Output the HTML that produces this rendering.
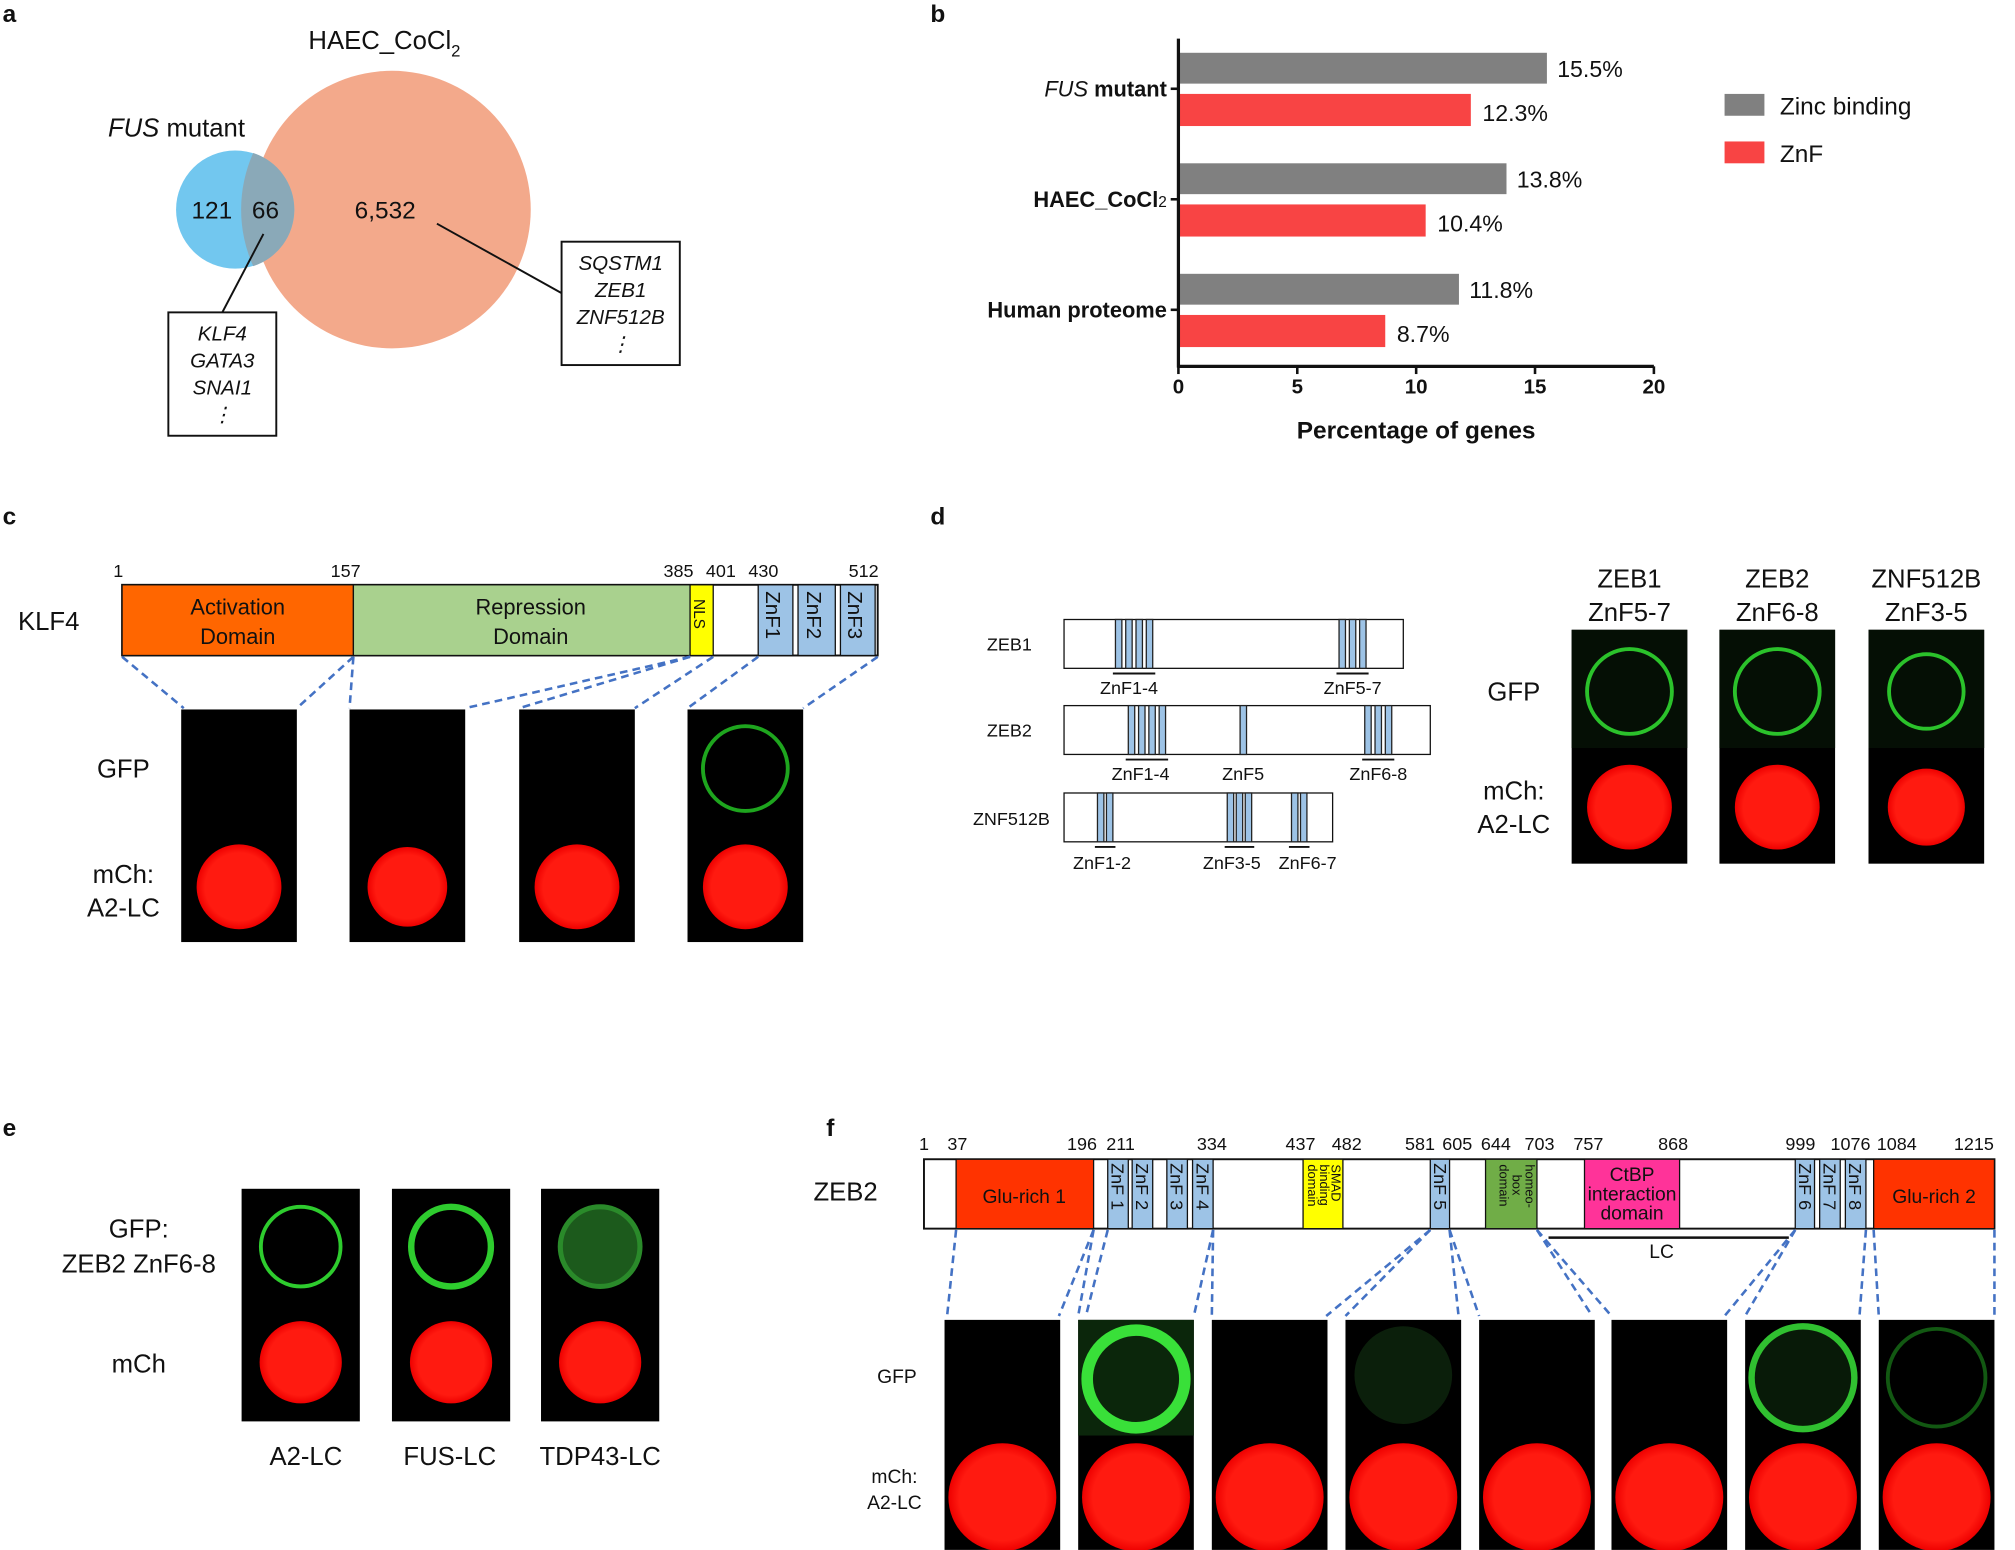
<!DOCTYPE html>
<html><head><meta charset="utf-8"><style>
html,body{margin:0;padding:0;background:#fff}
svg{display:block}
text{font-family:"Liberation Sans",Arial,sans-serif;fill:#111}
</style></head><body>
<svg id="fig" width="2015" height="1550" viewBox="0 0 1568 1206" xmlns="http://www.w3.org/2000/svg">
<defs>
<radialGradient id="redg" cx="50%" cy="50%" r="50%"><stop offset="80%" stop-color="#ff1a10"/><stop offset="100%" stop-color="#e00"/></radialGradient>
</defs>
<!-- panel labels -->
<g font-weight="bold" font-size="19">
<text x="2" y="17">a</text><text x="724" y="17">b</text><text x="2" y="408">c</text><text x="724" y="408">d</text><text x="2" y="884">e</text><text x="643" y="884">f</text>
</g>

<!-- panel a venn -->
<g>
<circle cx="305" cy="163" r="108" fill="#f3a98b"/>
<circle cx="183" cy="163" r="46" fill="#72c7ef"/>
<path d="M229 163 A46 46 0 0 1 197 207 A108 108 0 0 1 197 119 A46 46 0 0 1 229 163Z" fill="#8aa9b8"/>
<text x="240" y="38" font-size="20">HAEC_CoCl<tspan font-size="13" dy="6">2</tspan></text>
<text x="84" y="106" font-size="20"><tspan font-style="italic">FUS</tspan> mutant</text>
<text x="149" y="170" font-size="19">121</text><text x="196" y="170" font-size="19">66</text><text x="276" y="170" font-size="19">6,532</text>
<line x1="205" y1="182" x2="173" y2="243" stroke="#111" stroke-width="1.5"/>
<line x1="340" y1="174" x2="437" y2="228" stroke="#111" stroke-width="1.5"/>
<rect x="131" y="243" width="84" height="96" fill="#fff" stroke="#111" stroke-width="1.5"/>
<g font-style="italic" font-size="16" text-anchor="middle"><text x="173" y="265">KLF4</text><text x="173" y="286">GATA3</text><text x="173" y="307">SNAI1</text><text x="173" y="328">⋮</text></g>
<rect x="437" y="188" width="92" height="96" fill="#fff" stroke="#111" stroke-width="1.5"/>
<g font-style="italic" font-size="16" text-anchor="middle"><text x="483" y="210">SQSTM1</text><text x="483" y="231">ZEB1</text><text x="483" y="252">ZNF512B</text><text x="483" y="273">⋮</text></g>
</g>

<!-- panel b chart -->
<g id="chartb"></g>

<!-- panel c -->
<g>
<text x="14" y="490" font-size="20">KLF4</text>
<rect x="95" y="455" width="588" height="55" fill="#fff" stroke="#111" stroke-width="1.5"/>
<rect x="95" y="455" width="180" height="55" fill="#ff6600" stroke="#111"/>
<rect x="275" y="455" width="262" height="55" fill="#a9d18e" stroke="#111"/>
<rect x="537" y="455" width="18" height="55" fill="#ffff00" stroke="#111"/>
<rect x="590" y="455" width="27" height="55" fill="#9dc3e6" stroke="#111"/>
<rect x="621" y="455" width="29" height="55" fill="#9dc3e6" stroke="#111"/>
<rect x="654" y="455" width="27" height="55" fill="#9dc3e6" stroke="#111"/>
<g font-size="17" text-anchor="middle"><text x="185" y="478">Activation</text><text x="185" y="501">Domain</text><text x="413" y="478">Repression</text><text x="413" y="501">Domain</text></g>
<g font-size="16"><text transform="translate(540,466) rotate(90)" font-size="12">NLS</text>
<text transform="translate(596,460) rotate(90)">ZnF1</text><text transform="translate(628,460) rotate(90)">ZnF2</text><text transform="translate(660,460) rotate(90)">ZnF3</text></g>
<g font-size="14" text-anchor="middle"><text x="92" y="449">1</text><text x="269" y="449">157</text><text x="528" y="449">385</text><text x="561" y="449">401</text><text x="594" y="449">430</text><text x="672" y="449">512</text></g>
<g stroke="#4472c4" stroke-width="2" stroke-dasharray="6,4" fill="none">
<line x1="95" y1="511" x2="143" y2="551"/><line x1="275" y1="511" x2="231" y2="551"/><line x1="275" y1="511" x2="272" y2="551"/>
<line x1="537" y1="511" x2="362" y2="551"/><line x1="537" y1="511" x2="404" y2="551"/><line x1="555" y1="511" x2="494" y2="551"/>
<line x1="590" y1="511" x2="535" y2="551"/><line x1="683" y1="511" x2="625" y2="551"/>
</g>
<text x="96" y="605" font-size="20" text-anchor="middle">GFP</text>
<text x="96" y="687" font-size="20" text-anchor="middle">mCh:</text><text x="96" y="713" font-size="20" text-anchor="middle">A2-LC</text>
</g>
<g id="cimgs"></g>

<!-- panel d -->
<g font-size="14">
<text x="803" y="506" text-anchor="end">ZEB1</text><text x="803" y="573" text-anchor="end">ZEB2</text><text x="817" y="642" text-anchor="end">ZNF512B</text>
<rect x="828" y="482" width="264" height="38" fill="#fff" stroke="#111"/>
<rect x="828" y="549" width="285" height="38" fill="#fff" stroke="#111"/>
<rect x="828" y="617" width="209" height="38" fill="#fff" stroke="#111"/>
<g fill="#9dc3e6" stroke="#222" stroke-width="1">
<rect x="868" y="482" width="5" height="38"/><rect x="876" y="482" width="5" height="38"/><rect x="884" y="482" width="5" height="38"/><rect x="892" y="482" width="5" height="38"/>
<rect x="1042" y="482" width="5" height="38"/><rect x="1050" y="482" width="5" height="38"/><rect x="1058" y="482" width="5" height="38"/>
<rect x="878" y="549" width="5" height="38"/><rect x="886" y="549" width="5" height="38"/><rect x="894" y="549" width="5" height="38"/><rect x="902" y="549" width="5" height="38"/>
<rect x="965" y="549" width="5" height="38"/>
<rect x="1062" y="549" width="5" height="38"/><rect x="1070" y="549" width="5" height="38"/><rect x="1078" y="549" width="5" height="38"/>
<rect x="854" y="617" width="5" height="38"/><rect x="861" y="617" width="5" height="38"/>
<rect x="955" y="617" width="5" height="38"/><rect x="962" y="617" width="5" height="38"/><rect x="969" y="617" width="5" height="38"/>
<rect x="1005" y="617" width="5" height="38"/><rect x="1012" y="617" width="5" height="38"/>
</g>
<g stroke="#111" stroke-width="1.5"><line x1="866" y1="524" x2="899" y2="524"/><line x1="1040" y1="524" x2="1065" y2="524"/>
<line x1="876" y1="591" x2="909" y2="591"/><line x1="1060" y1="591" x2="1085" y2="591"/>
<line x1="852" y1="659" x2="868" y2="659"/><line x1="953" y1="659" x2="976" y2="659"/><line x1="1003" y1="659" x2="1019" y2="659"/></g>
<text x="856" y="540">ZnF1-4</text><text x="1030" y="540">ZnF5-7</text><text x="865" y="607">ZnF1-4</text><text x="951" y="607">ZnF5</text><text x="1050" y="607">ZnF6-8</text>
<text x="835" y="676">ZnF1-2</text><text x="936" y="676">ZnF3-5</text><text x="995" y="676">ZnF6-7</text>
</g>
<g font-size="20" text-anchor="middle">
<text x="1268" y="457">ZEB1</text><text x="1268" y="483">ZnF5-7</text><text x="1383" y="457">ZEB2</text><text x="1383" y="483">ZnF6-8</text><text x="1499" y="457">ZNF512B</text><text x="1499" y="483">ZnF3-5</text>
<text x="1178" y="545">GFP</text><text x="1178" y="622">mCh:</text><text x="1178" y="648">A2-LC</text>
</g>
<g id="dimgs"></g>

<!-- panel e -->
<g font-size="20" text-anchor="middle">
<text x="108" y="963">GFP:</text><text x="108" y="990">ZEB2 ZnF6-8</text><text x="108" y="1068">mCh</text>
<text x="238" y="1140">A2-LC</text><text x="350" y="1140">FUS-LC</text><text x="467" y="1140">TDP43-LC</text>
</g>
<g id="eimgs"></g>

<!-- panel f -->
<g>
<text x="633" y="934" font-size="20">ZEB2</text>
<rect x="719" y="902" width="833" height="54" fill="#fff" stroke="#111" stroke-width="1.5"/>
<rect x="744" y="902" width="107" height="54" fill="#ff3300" stroke="#111"/>
<rect x="1458" y="902" width="94" height="54" fill="#ff3300" stroke="#111"/>
<rect x="1014" y="902" width="31" height="54" fill="#ffff00" stroke="#111"/>
<rect x="1156" y="902" width="40" height="54" fill="#70ad47" stroke="#111"/>
<rect x="1233" y="902" width="74" height="54" fill="#ff3399" stroke="#111"/>
<g fill="#9dc3e6" stroke="#111">
<rect x="862" y="902" width="16" height="54"/><rect x="881" y="902" width="16" height="54"/><rect x="908" y="902" width="16" height="54"/><rect x="928" y="902" width="16" height="54"/>
<rect x="1113" y="902" width="15" height="54"/><rect x="1397" y="902" width="15" height="54"/><rect x="1416" y="902" width="16" height="54"/><rect x="1436" y="902" width="16" height="54"/>
</g>
<g font-size="15" text-anchor="middle"><text x="797" y="936">Glu-rich 1</text><text x="1505" y="936">Glu-rich 2</text>
<text x="1270" y="919">CtBP</text><text x="1270" y="934">interaction</text><text x="1270" y="949">domain</text></g>
<g font-size="14">
<text transform="translate(865,905) rotate(90)">ZnF 1</text><text transform="translate(884,905) rotate(90)">ZnF 2</text><text transform="translate(911,905) rotate(90)">ZnF 3</text><text transform="translate(931,905) rotate(90)">ZnF 4</text>
<text transform="translate(1116,905) rotate(90)">ZnF 5</text><text transform="translate(1400,905) rotate(90)">ZnF 6</text><text transform="translate(1419,905) rotate(90)">ZnF 7</text><text transform="translate(1439,905) rotate(90)">ZnF 8</text>
</g>
<g font-size="10"><text transform="translate(1036,906) rotate(90)">SMAD</text><text transform="translate(1027,906) rotate(90)">binding</text><text transform="translate(1018,906) rotate(90)">domain</text>
<text transform="translate(1187,906) rotate(90)">homeo-</text><text transform="translate(1177,914) rotate(90)">box</text><text transform="translate(1167,906) rotate(90)">domain</text></g>
<g font-size="14" text-anchor="middle"><text x="719" y="895">1</text><text x="745" y="895">37</text><text x="842" y="895">196</text><text x="872" y="895">211</text><text x="943" y="895">334</text><text x="1012" y="895">437</text><text x="1048" y="895">482</text><text x="1105" y="895">581</text><text x="1134" y="895">605</text><text x="1164" y="895">644</text><text x="1198" y="895">703</text><text x="1236" y="895">757</text><text x="1302" y="895">868</text><text x="1401" y="895">999</text><text x="1440" y="895">1076</text><text x="1476" y="895">1084</text><text x="1536" y="895">1215</text></g>
<line x1="1205" y1="963" x2="1392" y2="963" stroke="#111" stroke-width="2"/>
<text x="1293" y="979" font-size="15" text-anchor="middle">LC</text>
<g stroke="#4472c4" stroke-width="2" stroke-dasharray="6,4" fill="none">
<line x1="744" y1="957" x2="737" y2="1024"/><line x1="851" y1="957" x2="824" y2="1024"/>
<line x1="851" y1="957" x2="839" y2="1024"/><line x1="862" y1="957" x2="845" y2="1024"/>
<line x1="944" y1="957" x2="929" y2="1024"/><line x1="944" y1="957" x2="943" y2="1024"/>
<line x1="1113" y1="957" x2="1032" y2="1024"/><line x1="1113" y1="957" x2="1047" y2="1024"/>
<line x1="1128" y1="957" x2="1135" y2="1024"/><line x1="1128" y1="957" x2="1151" y2="1024"/>
<line x1="1196" y1="957" x2="1239" y2="1024"/><line x1="1196" y1="957" x2="1254" y2="1024"/>
<line x1="1397" y1="957" x2="1342" y2="1024"/><line x1="1397" y1="957" x2="1358" y2="1024"/>
<line x1="1452" y1="957" x2="1447" y2="1024"/><line x1="1458" y1="957" x2="1462" y2="1024"/><line x1="1552" y1="957" x2="1552" y2="1024"/>
</g>
<text x="698" y="1076" font-size="15" text-anchor="middle">GFP</text>
<text x="696" y="1154" font-size="15" text-anchor="middle">mCh:</text><text x="696" y="1174" font-size="15" text-anchor="middle">A2-LC</text>
</g>
<g id="fimgs"></g>
</svg>
<script>
const NS="http://www.w3.org/2000/svg";
// chart b data
const categories=["FUS mutant","HAEC_CoCl2","Human proteome"];
const zincBinding=[15.5,13.8,11.8];
const znfValues=[12.3,10.4,8.7];
const tickValues=[0,5,10,15,20];
const seriesNames=["Zinc binding","ZnF"];

function mk(tag,attrs,parent,txt){const e=document.createElementNS(NS,tag);for(const k in attrs)e.setAttribute(k,attrs[k]);if(txt!=null)e.textContent=txt;parent.appendChild(e);return e;}
const cb=document.getElementById('chartb');
const x0=917,xs=(1287-917)/20;
const X=v=>x0+v*xs;
const groupY=i=>68+i*86;
categories.forEach((c,i)=>{
  const gy=groupY(i);
  let r=mk('rect',{x:X(0),y:gy-27,width:X(zincBinding[i])-X(0),height:24,fill:'#808080'},cb);
  
  
  r=mk('rect',{x:X(0),y:gy+5,width:X(znfValues[i])-X(0),height:25,fill:'#f84444'},cb);
  
  
  mk('text',{x:X(zincBinding[i])+8,y:gy-8,'font-size':18},cb,zincBinding[i]+'%');
  mk('text',{x:X(znfValues[i])+9,y:gy+26,'font-size':18},cb,znfValues[i]+'%');
  mk('line',{x1:x0-6,y1:gy+1,x2:x0,y2:gy+1,stroke:'#111','stroke-width':2},cb);
  const t=mk('text',{x:x0-9,y:gy+7,'font-size':17,'font-weight':'bold','text-anchor':'end'},cb);
  
  
  if(i===0){mk('tspan',{'font-style':'italic','font-weight':'normal'},t,'FUS');mk('tspan',{},t,' mutant');}
  else if(i===1){mk('tspan',{},t,'HAEC_CoCl');mk('tspan',{'font-size':12,'font-weight':'normal'},t,'2');}
  else t.textContent=c;
});
mk('line',{x1:x0,y1:30,x2:x0,y2:286,stroke:'#111','stroke-width':2.5},cb);
mk('line',{x1:x0,y1:285,x2:X(20),y2:285,stroke:'#111','stroke-width':2.5},cb);
tickValues.forEach(v=>{
  mk('line',{x1:X(v),y1:285,x2:X(v),y2:291,stroke:'#111','stroke-width':2},cb);
  const t=mk('text',{x:X(v),y:306,'font-size':16,'font-weight':'bold','text-anchor':'middle'},cb,v);
  
  
});
const xt=mk('text',{x:1102,y:341,'font-size':19,'font-weight':'bold','text-anchor':'middle'},cb,'Percentage of genes');


const legColors=['#808080','#f84444'];
seriesNames.forEach((s,i)=>{
  const g=mk('g',{},cb);
  
  
  mk('rect',{x:1342,y:73+i*37,width:31,height:17,fill:legColors[i]},g);
  mk('text',{x:1385,y:89+i*37,'font-size':19},g,s);
});

// microscopy panels
function panel(parent,x,y,w,h,split,gfp,red){
  const g=mk('g',{},parent);
  
  
  mk('rect',{x:x,y:y,width:w,height:h,fill:'#000'},g);
  if(gfp&&gfp.bg) mk('rect',{x:x,y:y,width:w,height:split-y,fill:gfp.bg},g);
  if(gfp){
    if(gfp.fill) mk('circle',{cx:gfp.cx,cy:gfp.cy,r:gfp.r,fill:gfp.fill},g);
    if(gfp.sw) mk('circle',{cx:gfp.cx,cy:gfp.cy,r:gfp.r,fill:'none',stroke:gfp.col,'stroke-width':gfp.sw},g);
  }
  mk('circle',{cx:red.cx,cy:red.cy,r:red.r,fill:'url(#redg)'},g);
}
const ci=document.getElementById('cimgs');
[141,272,404,535].forEach((x,i)=>{
  panel(ci,x,552,90,181,640,i===3?{cx:x+45,cy:598,r:33,col:'#1ea51e',sw:3}:null,{cx:x+45,cy:690,r:i==1?31:33});
});
const di=document.getElementById('dimgs');
[1223,1338,1454].forEach((x,i)=>{
  panel(di,x,490,90,182,582,{cx:x+45,cy:538,r:i==2?29:33,col:'#2bc22b',sw:3,bg:'#050f05'},{cx:x+45,cy:628,r:i==2?30:33});
});
const ei=document.getElementById('eimgs');
[188,305,421].forEach((x,i)=>{
  const g={cx:x+46,cy:970,r:31,col:'#2ecc2e',sw:i==1?5:3};
  if(i==2){g.fill='#1c5a1c';g.sw=4;g.col='#2a8a2a';}
  panel(ei,x,925,92,181,1015,g,{cx:x+46,cy:1060,r:32});
});
const fi=document.getElementById('fimgs');
[735,839,943,1047,1151,1254,1358,1462].forEach((x,i)=>{
  let g=null;
  if(i==1) g={cx:x+45,cy:1073,r:38,col:'#39e039',sw:9,bg:'#0b260b'};
  if(i==3) g={cx:x+45,cy:1070,r:38,fill:'#0b1f0b'};
  if(i==6) g={cx:x+45,cy:1072,r:40,col:'#30c030',sw:5,fill:'#081a08'};
  if(i==7) g={cx:x+45,cy:1072,r:38,col:'#125812',sw:3};
  panel(fi,x,1027,90,179,1117,g,{cx:x+45,cy:1165,r:42});
});
</script>
</body></html>
